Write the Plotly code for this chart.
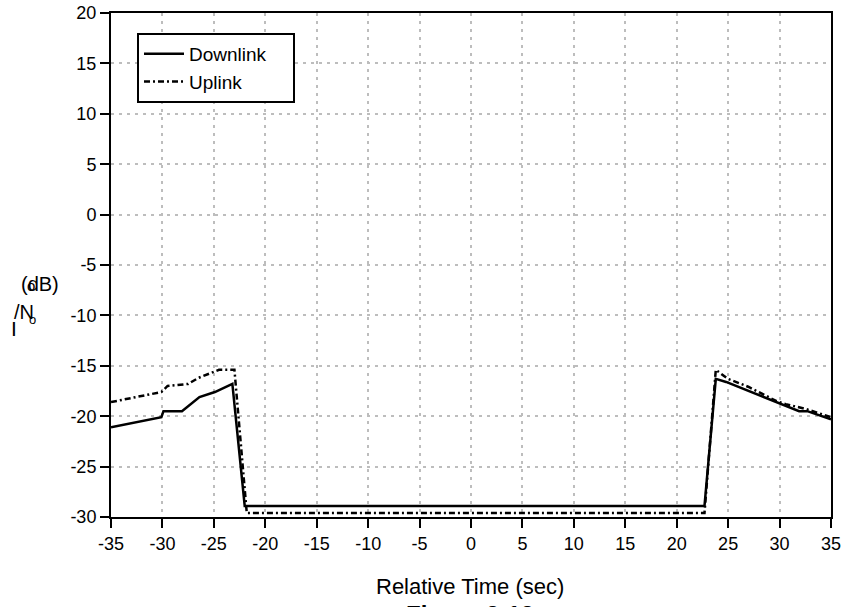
import plotly.graph_objects as go

# Data
down_x = [-35, -30.1, -29.9, -28.1, -26.4, -24.9, -23.2, -22.0, 22.7, 23.8, 24.8, 27.0, 27.8, 29.7, 31.9, 32.7, 35]
down_y = [-21.1, -20.1, -19.5, -19.5, -18.1, -17.6, -16.8, -28.9, -28.9, -16.3, -16.6, -17.5, -17.8, -18.6, -19.5, -19.5, -20.3]

up_x = [-35, -30.1, -29.5, -27.5, -26.5, -24.5, -23.0, -21.8, 22.7, 23.8, 25.0, 27.0, 29.7, 30.6, 32.6, 34.1, 35]
up_y = [-18.6, -17.6, -17.0, -16.8, -16.2, -15.4, -15.4, -29.6, -29.6, -15.4, -16.3, -17.1, -18.5, -18.8, -19.3, -19.8, -20.1]

x_ticks = list(range(-35, 36, 5))
y_ticks = list(range(-30, 21, 5))

W, H = 842, 607
L, R, T, B = 111, 11, 13, 90

fig = go.Figure()
fig.add_trace(go.Scatter(x=down_x, y=down_y, mode="lines", name="Downlink\u00a0\u00a0\u00a0\u00a0",
                         line=dict(color="black", width=2.5)))
fig.add_trace(go.Scatter(x=up_x, y=up_y, mode="lines", name="Uplink",
                         line=dict(color="black", width=2.5, dash="6px,3px,2px,3px")))

font = "Liberation Sans, Arial, sans-serif"
axis_common = dict(showline=True, linecolor="black", linewidth=2, mirror=True,
                   ticks="outside", ticklen=9, tickwidth=2, tickcolor="black",
                   showgrid=True, gridcolor="#bdbdbd", gridwidth=2, griddash="3px,5px",
                   zeroline=False, automargin=False,
                   tickfont=dict(family=font, size=18, color="black"))

fig.update_xaxes(range=[-35, 35], tickvals=x_ticks, ticktext=[str(v) for v in x_ticks], **axis_common)
fig.update_yaxes(range=[-30, 20], tickvals=y_ticks, ticktext=[str(v) for v in y_ticks], **axis_common)

def px_to_paper(px, py):
    return (px - L) / (W - L - R), 1 - (py - T) / (H - T - B)

annos = []
# garbled y axis label pieces (as in the reference)
for txt, px, py, sz in [("(dB)", 40, 284, 20), ("o", 31, 285, 15), ("/N", 24, 312, 20),
                        ("o", 32, 319, 13), ("I", 14, 328, 21)]:
    ax_, ay_ = px_to_paper(px, py)
    annos.append(dict(text=txt, x=ax_, y=ay_, xref="paper", yref="paper", showarrow=False,
                      xanchor="center", yanchor="middle", font=dict(family=font, size=sz, color="black")))
ax_, ay_ = px_to_paper(470, 586)
annos.append(dict(text="Relative Time (sec)", x=ax_, y=ay_, xref="paper", yref="paper", showarrow=False,
                  xanchor="center", yanchor="middle", font=dict(family=font, size=22, color="black")))
ax_, ay_ = px_to_paper(470, 599)
annos.append(dict(text="<b>Figure 3-13</b>", x=ax_, y=ay_, xref="paper", yref="paper", showarrow=False,
                  xanchor="center", yanchor="top", font=dict(family=font, size=24, color="black")))

lx, ly = px_to_paper(137, 33)
fig.update_layout(
    width=W, height=H, margin=dict(l=L, r=R, t=T, b=B, autoexpand=False),
    paper_bgcolor="white", plot_bgcolor="white",
    showlegend=True,
    legend=dict(x=lx, y=ly, xanchor="left", yanchor="top", bgcolor="white",
                bordercolor="black", borderwidth=2, itemwidth=40,
                font=dict(family=font, size=19, color="black"), tracegroupgap=0),
    annotations=annos,
)

fig.write_html("out.html")
